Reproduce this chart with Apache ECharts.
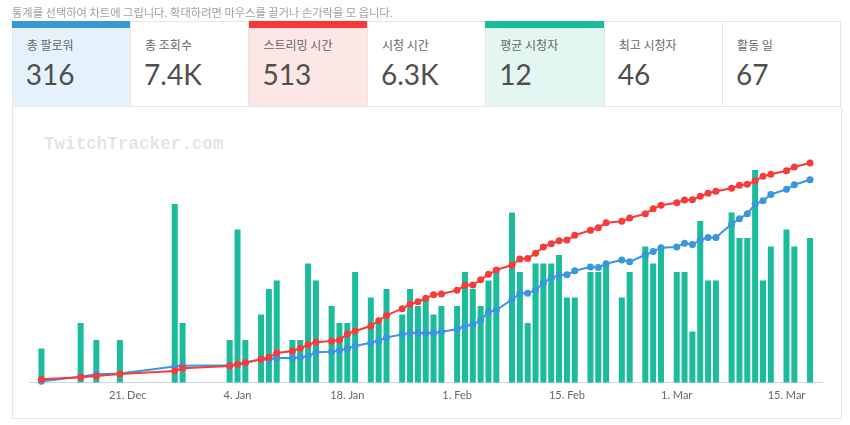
<!DOCTYPE html>
<html>
<head>
<meta charset="utf-8">
<script src="https://cdn.jsdelivr.net/npm/echarts@6/dist/echarts.min.js"></script>
<style>
  html, body { margin: 0; padding: 0; background: #fff; width: 850px; height: 425px; overflow: hidden; }
  #chart { position: absolute; left: 0; top: 0; width: 850px; height: 425px; }
  #note { position: absolute; left: 12px; top: 4px; font: 11.25px "Noto Sans CJK KR", sans-serif; color: #a0a0a0; white-space: nowrap; }
  .box { position: absolute; top: 20.7px; height: 86px; box-sizing: border-box; border: 1px solid #e6e6e6; }
  .bar { position: absolute; left: -1px; right: -1px; top: -1px; height: 7px; }
  .lbl { position: absolute; left: 14px; top: 15.6px; font: 12px/16px "Noto Sans CJK KR", sans-serif; color: #666; white-space: nowrap; }
  .val { position: absolute; left: 13px; top: 36.5px; font: 28px/32px Lato, sans-serif; color: #4f4f4f; white-space: nowrap; }
  #frame { position: absolute; left: 11.7px; top: 106px; width: 830px; height: 312.5px; box-sizing: border-box; border: 1px solid #e6e6e6; border-top: none; }
</style>
</head>
<body>
<div id="chart"></div>
<div id="frame"></div>
<div id="note">통계를 선택하여 차트에 그립니다. 확대하려면 마우스를 끌거나 손가락을 모 읍니다.</div>
<div id="stats"></div>
<script>
// ---- stat boxes ----
const statLabels = ['총 팔로워', '총 조회수', '스트리밍 시간', '시청 시간', '평균 시청자', '최고 시청자', '활동 일'];
const statValues = ['316', '7.4K', '513', '6.3K', '12', '46', '67'];
const statBarColors = ['#3498db', null, '#f93535', null, '#1abc9c', null, null];
const statBgColors = ['#e5f2fb', '#ffffff', '#fde6e6', '#ffffff', '#e3f6f1', '#ffffff', '#ffffff'];

// ---- chart data ----
const streamDates = [
  '2020-12-10','2020-12-15','2020-12-17','2020-12-20','2020-12-27','2020-12-28',
  '2021-01-03','2021-01-04','2021-01-05','2021-01-07','2021-01-08','2021-01-09','2021-01-11','2021-01-12','2021-01-13','2021-01-14','2021-01-16','2021-01-17','2021-01-18','2021-01-19','2021-01-21','2021-01-22','2021-01-23','2021-01-25','2021-01-26','2021-01-27','2021-01-28','2021-01-29','2021-01-30',
  '2021-02-01','2021-02-02','2021-02-03','2021-02-04','2021-02-05','2021-02-06','2021-02-08','2021-02-09','2021-02-10','2021-02-11','2021-02-12','2021-02-13','2021-02-14','2021-02-15','2021-02-16','2021-02-18','2021-02-19','2021-02-20','2021-02-22','2021-02-23','2021-02-25','2021-02-26','2021-02-27',
  '2021-03-01','2021-03-02','2021-03-03','2021-03-04','2021-03-05','2021-03-06','2021-03-08','2021-03-09','2021-03-10','2021-03-11','2021-03-12','2021-03-13','2021-03-15','2021-03-16','2021-03-18'
];
const avgViewers = [
  4,7,5,5,21,7,
  5,18,5,8,11,12,5,5,14,12,9,7,7,13,10,7,11,8,11,9,10,8,9,
  9,13,11,9,12,13,20,13,7,14,14,14,15,10,10,13,13,14,10,13,16,14,16,
  13,13,6,19,12,12,20,17,17,25,12,16,18,16,17
];
const totalHours = [
  7.5,12.2,15.2,19.9,26.9,33.2,
  38.6,42.5,46.3,54.2,58.9,68.9,73.6,79.9,88.3,93.9,97,99.3,113.3,120.4,132,144.4,157,172.5,182.8,188.8,196.8,205.2,206.8,
  215.5,227.2,227.9,240.2,252.9,262.9,274.6,288.6,290,301.9,316.7,324.4,331.4,333,344,355.7,361.8,373.5,376.7,384.4,394.5,406.2,414.1,
  420.2,426.5,427.2,435.1,442.2,446.8,453.8,460.9,463.2,470.9,481.9,486.6,495,503.6,513
];
const totalFollowers = [
  2,9,13,14,25,26,
  27,28,31,36,36,38,38,39,41,47,48,50,53,57,62,65,70,75,77,77,77,77,79,
  83,88,90,97,110,113,129,139,139,144,155,163,167,168,174,180,179,185,191,188,199,204,210,
  211,217,215,222,226,226,247,255,263,278,283,293,301,308,316
];
const tickDates = ['2020-12-21','2021-01-04','2021-01-18','2021-02-01','2021-02-15','2021-03-01','2021-03-15'];
const firstDay = '2020-12-09';
const lastDay = '2021-03-19';
const monthNames = ['Jan','Feb','Mar','Apr','May','Jun','Jul','Aug','Sep','Oct','Nov','Dec'];

// build stat boxes
const stats = document.getElementById('stats');
statLabels.forEach((l, i) => {
  const b = document.createElement('div');
  b.className = 'box';
  b.style.left = (11.7 + i * 118.4) + 'px';
  b.style.width = (118.4 + 1) + 'px';
  b.style.background = statBgColors[i];
  if (statBarColors[i]) {
    const bar = document.createElement('div');
    bar.className = 'bar';
    bar.style.background = statBarColors[i];
    b.appendChild(bar);
  }
  const lb = document.createElement('div'); lb.className = 'lbl'; lb.textContent = l; b.appendChild(lb);
  const vl = document.createElement('div'); vl.className = 'val'; vl.textContent = statValues[i]; b.appendChild(vl);
  stats.appendChild(b);
});

// daily categories
function iso(t) { return new Date(t).toISOString().slice(0, 10); }
const days = [];
for (let t = Date.parse(firstDay + 'T00:00:00Z'); t <= Date.parse(lastDay + 'T00:00:00Z'); t += 86400000) days.push(iso(t));
function fmt(d) { const p = d.split('-'); return (+p[2]) + '. ' + monthNames[+p[1] - 1]; }

const chart = echarts.init(document.getElementById('chart'), null, { renderer: 'canvas' });
chart.setOption({
  animation: false,
  backgroundColor: 'transparent',
  graphic: [{
    type: 'text', left: 44, top: 136, silent: true,
    style: { text: 'TwitchTracker.com', font: 'bold 17.6px "Liberation Mono", monospace', fill: '#e4e4e4' }
  }],
  grid: { left: 29.67, right: 28.2, top: 110.5, bottom: 42.5 },
  xAxis: {
    type: 'category',
    data: days,
    boundaryGap: true,
    axisLine: { lineStyle: { color: '#ccd6eb', width: 1 } },
    axisTick: { alignWithLabel: true, length: 8, lineStyle: { color: '#ccd6eb' }, interval: (i, v) => tickDates.includes(v) },
    axisLabel: { interval: (i, v) => tickDates.includes(v), formatter: v => fmt(v), color: '#666', fontSize: 11, fontFamily: 'Lato', margin: 7 },
    splitLine: { show: false }
  },
  yAxis: [
    { type: 'value', show: false, min: 0, max: 32, splitLine: { show: false } },
    { type: 'value', show: false, min: 0, max: 635.7, splitLine: { show: false } },
    { type: 'value', show: false, min: 0, max: 423.8, splitLine: { show: false } }
  ],
  series: [
    {
      type: 'bar', yAxisIndex: 0, barWidth: 6,
      itemStyle: { color: '#1abc9c' },
      data: streamDates.map((d, i) => [d, avgViewers[i]])
    },
    {
      type: 'line', yAxisIndex: 2, symbol: 'circle', symbolSize: 7, showAllSymbol: true,
      lineStyle: { color: '#3a97dd', width: 2 }, itemStyle: { color: '#3a97dd' },
      data: streamDates.map((d, i) => [d, totalFollowers[i]])
    },
    {
      type: 'line', yAxisIndex: 1, symbol: 'circle', symbolSize: 7, showAllSymbol: true,
      lineStyle: { color: '#f63b3b', width: 2 }, itemStyle: { color: '#f63b3b' },
      data: streamDates.map((d, i) => [d, totalHours[i]])
    }
  ]
});
</script>
</body>
</html>
